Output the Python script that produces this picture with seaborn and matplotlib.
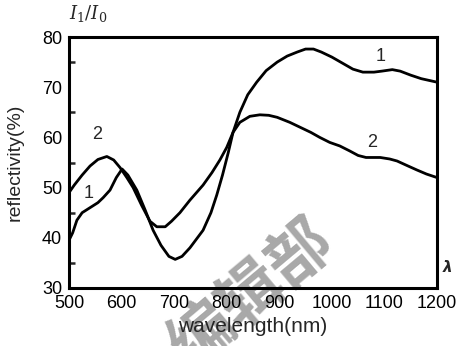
import numpy as np
import pandas as pd
import matplotlib
matplotlib.use("Agg")
import matplotlib.pyplot as plt
import seaborn as sns

# ---- data ----
wl1 = [500, 507, 515, 525, 540, 555, 565, 578, 590, 601, 612, 629, 645, 660, 675, 690,
       702, 715, 730, 755, 770, 781, 792, 803, 812, 825, 840, 857, 875, 896, 915, 934,
       950, 965, 980, 1000, 1020, 1040, 1059, 1080, 1095, 1115, 1130, 1150, 1170, 1200]
r1 = [39.5, 41.0, 43.5, 45.0, 46.0, 47.0, 48.0, 49.5, 52.0, 53.7, 52.5, 49.5, 45.5, 41.5,
      38.5, 36.3, 35.7, 36.3, 38.0, 41.5, 45.0, 48.5, 52.5, 57.0, 61.0, 65.0, 68.5, 71.0,
      73.3, 75.0, 76.2, 77.0, 77.6, 77.6, 77.0, 76.0, 74.8, 73.6, 73.0, 73.0, 73.2, 73.5,
      73.2, 72.4, 71.7, 71.0]
wl2 = [500, 510, 525, 540, 555, 572, 585, 597, 610, 622, 638, 654, 667, 683, 695, 711,
       730, 755, 772, 787, 800, 812, 825, 844, 863, 880, 896, 920, 940, 960, 977, 996,
       1015, 1034, 1050, 1065, 1092, 1110, 1124, 1145, 1162, 1180, 1200]
r2 = [49.0, 50.5, 52.5, 54.3, 55.6, 56.2, 55.5, 54.0, 52.0, 50.0, 46.5, 43.3, 42.2, 42.2,
      43.3, 45.0, 47.5, 50.5, 53.0, 55.5, 58.0, 61.0, 63.0, 64.2, 64.5, 64.4, 64.0, 63.0,
      62.0, 61.0, 60.0, 59.0, 58.3, 57.3, 56.4, 56.0, 56.0, 55.7, 55.3, 54.3, 53.5, 52.7,
      52.0]
curve_names = ["1", "2"]
x_ticks = [500, 600, 700, 800, 900, 1000, 1100, 1200]
y_ticks = [30, 40, 50, 60, 70, 80]

df = pd.concat([
    pd.DataFrame({"wavelength": wl1, "reflectivity": r1, "curve": curve_names[0]}),
    pd.DataFrame({"wavelength": wl2, "reflectivity": r2, "curve": curve_names[1]}),
])

sns.set_style("white")
plt.rcParams["font.family"] = ["Liberation Sans", "DejaVu Sans"]
plt.rcParams["mathtext.fontset"] = "dejavuserif"

fig = plt.figure(figsize=(4.74, 3.46), dpi=100)
ax = fig.add_axes([69/474, 1-288/346, (437-69)/474, (288-37)/346])
ax.set_facecolor("none")

sns.lineplot(data=df, x="wavelength", y="reflectivity", units="curve", estimator=None,
             color="black", linewidth=2.0, ax=ax, sort=False, legend=False)

ax.set_xlim(500, 1200)
ax.set_ylim(30, 80)
ax.set_xticks(x_ticks)
ax.set_yticks(y_ticks)
ax.set_yticks([35, 45, 55, 65, 75], minor=True)
ax.tick_params(axis="y", which="major", direction="in", length=10, width=1.8,
               labelsize=13, pad=5, colors="black")
ax.tick_params(axis="y", which="minor", direction="in", length=4, width=1.8, left=True)
ax.tick_params(axis="x", which="major", direction="in", length=3, width=1.8,
               labelsize=13, pad=5, colors="black")
for s in ax.spines.values():
    s.set_linewidth(2.2)
    s.set_color("black")

ax.set_xlabel("wavelength(nm)", fontsize=15, labelpad=4)
ax.set_ylabel("reflectivity(%)", fontsize=14, labelpad=13)

# curve labels
ax.text(538, 48.9, "1", fontsize=13, ha="center", va="center")
ax.text(553, 60.5, "2", fontsize=13, ha="center", va="center")
ax.text(1092, 76.2, "1", fontsize=13, ha="center", va="center")
ax.text(1077, 58.9, "2", fontsize=13, ha="center", va="center")

# axis quantity symbols
ax.text(0.0, 1.05, r"$I_1/I_0$", transform=ax.transAxes, fontsize=13,
        ha="left", va="bottom")
ax.text(1.028, 0.05, "λ", transform=ax.transAxes,
        fontsize=11, fontweight="bold", style="italic", ha="center", va="bottom",
        family=["DejaVu Sans"])

# watermark
fig.text(252/474, 1-294/346, "编辑部", fontsize=46, rotation=40, color="#a8a8a8",
         ha="center", va="center", fontweight="bold",
         family=["Noto Sans CJK SC", "DejaVu Sans"], zorder=-1)

fig.savefig("out.png", dpi=100)
